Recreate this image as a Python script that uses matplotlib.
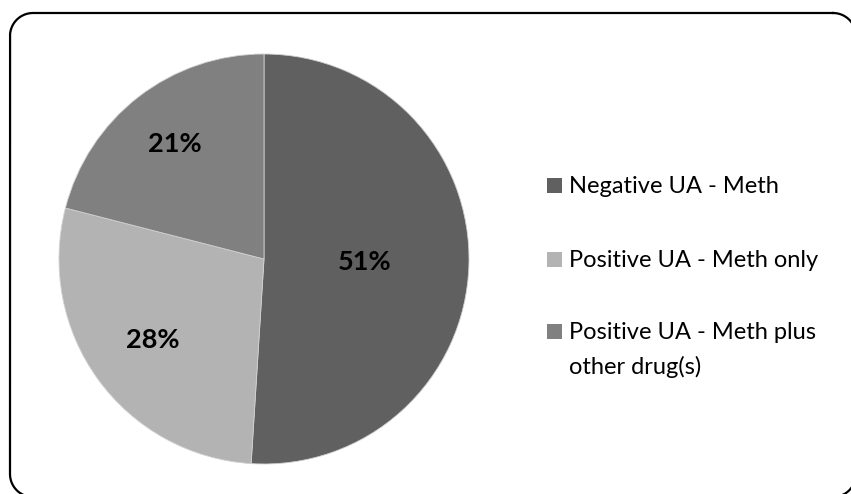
import matplotlib
matplotlib.use("Agg")
import matplotlib.pyplot as plt
from matplotlib.patches import Rectangle
import numpy as np

plt.rcParams['font.family'] = ['Lato', 'DejaVu Sans']

# slice data
labels = ['Negative UA - Meth', 'Positive UA - Meth only', 'Positive UA - Meth plus\nother drug(s)']
shares = [51, 28, 21]
colors = ['#606060', '#b3b3b3', '#808080']
# how far out each percentage label sits (fraction of radius)
label_radius = [0.49, 0.67, 0.71]

W, H = 851, 494


def rounded_rect(left, top, right, bottom, rad, n=40):
    """Outline of a rounded rectangle as a polyline (y grows downward)."""
    corners = [(right - rad, top + rad, -90, 0),
               (right - rad, bottom - rad, 0, 90),
               (left + rad, bottom - rad, 90, 180),
               (left + rad, top + rad, 180, 270)]
    xs, ys = [], []
    for cx0, cy0, a0, a1 in corners:
        t = np.deg2rad(np.linspace(a0, a1, n))
        xs.extend(cx0 + rad * np.cos(t))
        ys.extend(cy0 + rad * np.sin(t))
    xs.append(xs[0])
    ys.append(ys[0])
    return np.array(xs), np.array(ys)


fig = plt.figure(figsize=(W / 100, H / 100), dpi=100)

# overlay axes in pixel units (y from the top) for frame and legend
bg = fig.add_axes([0, 0, 1, 1])
bg.set_xlim(0, W)
bg.set_ylim(H, 0)
bg.axis('off')
fx, fy = rounded_rect(10, 13, 856, 497, 23)
bg.plot(fx, fy, color='black', lw=1.6, solid_joinstyle='round')

cx, cy, r = 264, 259, 205
ax = fig.add_axes([(cx - r) / W, (H - cy - r) / H, 2 * r / W, 2 * r / H])
wedges, _ = ax.pie(shares, colors=colors, startangle=90, counterclock=False,
                   wedgeprops=dict(edgecolor='#d0d0d0', linewidth=0.6))
ax.set_xlim(-1, 1)
ax.set_ylim(-1, 1)
ax.set_aspect('auto')
ax.axis('off')

for w, s, d in zip(wedges, shares, label_radius):
    ang = np.deg2rad((w.theta1 + w.theta2) / 2)
    ax.text(d * np.cos(ang), d * np.sin(ang), f"{s}%", ha='center', va='center',
            fontsize=19.5, fontweight='bold', color='black')

# legend: square swatch + text, one row per slice
baselines = [193, 267, 339]
for lab, c, y in zip(labels, colors, baselines):
    bg.add_patch(Rectangle((547, y - 15), 15, 15, facecolor=c, edgecolor='none'))
    for i, line in enumerate(lab.split('\n')):
        bg.text(569, y + 35 * i, line, ha='left', va='baseline',
                fontsize=17, color='black')

fig.savefig('out.png', dpi=100)
